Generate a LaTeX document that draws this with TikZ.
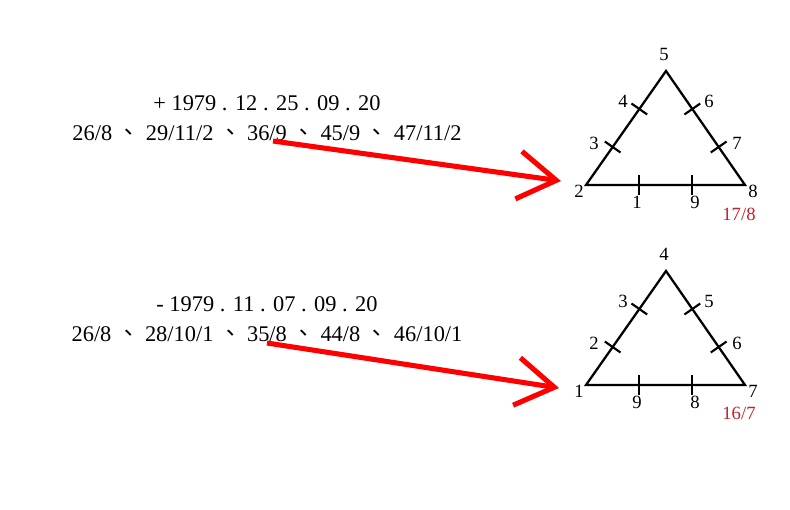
\documentclass[tikz,border=0pt]{standalone}
\usepackage{fontspec}
\setmainfont{Liberation Serif}
\newfontfamily\cjkfont{Noto Sans CJK TC}
\usetikzlibrary{calc,arrows.meta}
\definecolor{labred}{RGB}{190,35,40}
\newcommand{\dunhao}{{\cjkfont 、}}
\tikzset{
  maintext/.style={font=\fontsize{16.8pt}{19pt}\selectfont, anchor=base, inner sep=0pt},
  vlabel/.style={font=\fontsize{14pt}{16pt}\selectfont, inner sep=0pt},
  sumlabel/.style={font=\fontsize{14pt}{16pt}\selectfont, inner sep=0pt, text=labred},
  triline/.style={line width=1.7pt, line join=miter},
  tickline/.style={line width=1.6pt},
  redarrow/.style={draw=red, line width=3.8pt, -{Straight Barb[length=28.5pt,width=36pt]}}
}
\begin{document}
\begin{tikzpicture}[x=0.75pt,y=-0.75pt]
\useasboundingbox (0,0) rectangle (790,510);
% ---------- texts ----------
\node[maintext] (t1a) at (267,111) {+ 1979 . 12 . 25 . 09 . 20};
\node[maintext] (t1b) at (267,141) {26/8 \dunhao{} 29/11/2 \dunhao{} 36/9 \dunhao{} 45/9 \dunhao{} 47/11/2};
\node[maintext] (t2a) at (267,311) {- 1979 . 11 . 07 . 09 . 20};
\node[maintext] (t2b) at (267,341) {26/8 \dunhao{} 28/10/1 \dunhao{} 35/8 \dunhao{} 44/8 \dunhao{} 46/10/1};
% ---------- triangle 1 ----------
\coordinate (A1) at (586,185);
\coordinate (B1) at (666,71);
\coordinate (C1) at (745,185);
\draw[triline] (A1) -- (B1) -- (C1) -- cycle;
\foreach \p/\q/\f/\n in {A1/C1/{1/3}/ba, A1/C1/{2/3}/bb, A1/B1/{1/3}/la, A1/B1/{2/3}/lb, C1/B1/{1/3}/ra, C1/B1/{2/3}/rb}{
  \coordinate (k1\n) at ($(\p)!\f!(\q)$);
  \draw[tickline] ($(k1\n)!7.2pt!90:(\q)$) -- ($(k1\n)!7.2pt!-90:(\q)$);
}
\node[vlabel] (l15) at (664,54) {5};
\node[vlabel] (l14) at (623,101) {4};
\node[vlabel] (l13) at (594,143) {3};
\node[vlabel] (l12) at (579,191) {2};
\node[vlabel] (l11) at (637,202) {1};
\node[vlabel] (l19) at (695,202) {9};
\node[vlabel] (l18) at (753,191) {8};
\node[vlabel] (l17) at (737,143) {7};
\node[vlabel] (l16) at (709,101) {6};
\node[sumlabel] (s1) at (739,214) {17/8};
% ---------- triangle 2 ----------
\coordinate (A2) at (586,385);
\coordinate (B2) at (666,271);
\coordinate (C2) at (745,385);
\draw[triline] (A2) -- (B2) -- (C2) -- cycle;
\foreach \p/\q/\f/\n in {A2/C2/{1/3}/ba, A2/C2/{2/3}/bb, A2/B2/{1/3}/la, A2/B2/{2/3}/lb, C2/B2/{1/3}/ra, C2/B2/{2/3}/rb}{
  \coordinate (k2\n) at ($(\p)!\f!(\q)$);
  \draw[tickline] ($(k2\n)!7.2pt!90:(\q)$) -- ($(k2\n)!7.2pt!-90:(\q)$);
}
\node[vlabel] (l24) at (664,254) {4};
\node[vlabel] (l23) at (623,301) {3};
\node[vlabel] (l22) at (594,343) {2};
\node[vlabel] (l21) at (579,391) {1};
\node[vlabel] (l29) at (637,402) {9};
\node[vlabel] (l28) at (695,402) {8};
\node[vlabel] (l27) at (753,391) {7};
\node[vlabel] (l26) at (737,343) {6};
\node[vlabel] (l25) at (709,301) {5};
\node[sumlabel] (s2) at (739,413) {16/7};
% ---------- arrows ----------
\coordinate (as1) at (273,141);
\coordinate (ae1) at (561,181);
\draw[redarrow] (as1) -- (ae1);
\coordinate (as2) at (267,343);
\coordinate (ae2) at (559,388);
\draw[redarrow] (as2) -- (ae2);
\end{tikzpicture}
\end{document}
